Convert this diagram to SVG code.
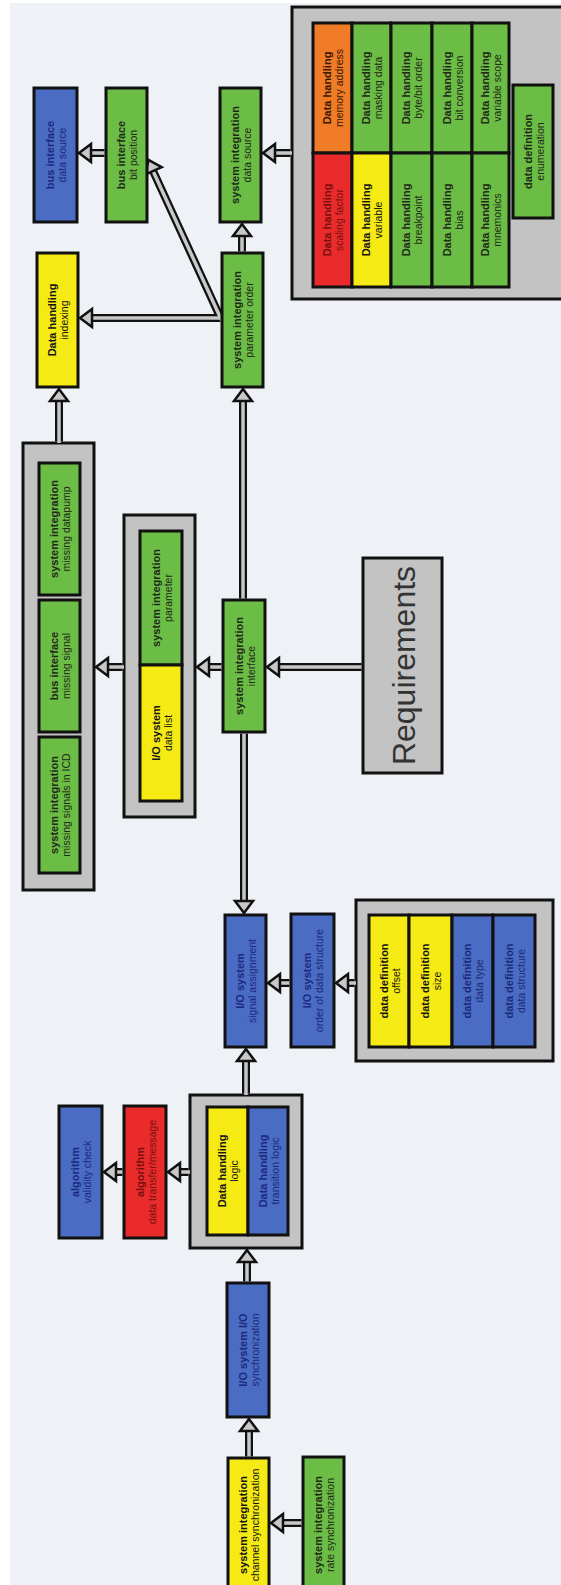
<svg xmlns="http://www.w3.org/2000/svg" xmlns:xlink="http://www.w3.org/1999/xlink" width="561" height="1585" viewBox="0 0 561 1585">
<style>
.box{stroke:#111;stroke-width:3}
.grp{fill:#c3c3c3;stroke:#111;stroke-width:3}
.green{fill:#6cbd45}
.blue{fill:#4a6cc2}
.yellow{fill:#f6ea14}
.red{fill:#ea2b2b}
.orange{fill:#f07c28}
text{font-family:"Liberation Sans",Arial,sans-serif;text-anchor:middle}
.b{font-weight:bold;font-size:11px}
.r{font-size:10.5px}
.kg{fill:#1f2a18}
.kb{fill:#1b2a80}
.ky{fill:#151515}
.kr{fill:#7a1010}
.ko{fill:#3a1800}
.req{font-size:32px;fill:#333}
.sb{stroke:#111;stroke-width:8;fill:none}
.sg{stroke:#c8c8c8;stroke-width:3.5;fill:none}
.ah{fill:#c8c8c8;stroke:#111;stroke-width:2.5;stroke-linejoin:miter}
</style>
<defs>
<path id="ah" class="ah" d="M0,0 L-12,-9 L-12,9 Z"/>
</defs>
<rect x="0" y="0" width="561" height="1585" fill="#ffffff"/>
<rect x="10" y="3" width="551" height="1582" fill="#eef2f6"/>

<g id="grp-datahandling">
<rect class="grp" x="292" y="7" width="290" height="292"/>
</g>
<g id="grp-missing"><rect class="grp" x="23" y="443" width="71" height="447"/></g>
<g id="grp-parameter"><rect class="grp" x="124" y="515" width="71" height="302"/></g>
<g id="grp-datadef"><rect class="grp" x="356" y="900" width="197" height="161"/></g>
<g id="grp-logic"><rect class="grp" x="190" y="1095" width="112" height="153"/></g>

<g id="connectors">
<path class="sb" d="M104.5 153H90M290.5 153H274M242 251.5V235M220.5 318L152.6 170M220.5 318H91M59 441.5V400M243 598.5V400M221.5 667H208M122.5 667H107M361.5 667H278M244 733.5V902M354.5 983H347M289.5 983H279M246 1093.5V1060M188.5 1172H179M122.5 1172H115M247 1281.5V1261M249 1456.5V1430M301.5 1523H282"/>
<path class="sg" d="M106 153H90M292 153H274M242 253V235M221.5 320L152.6 170M222 318H91M59 443V400M243 600V400M223 667H208M124 667H107M363 667H278M244 732V902M356 983H347M291 983H279M246 1095V1060M190 1172H179M124 1172H115M247 1283V1261M249 1458V1430M303 1523H282"/>
<use xlink:href="#ah" transform="translate(79,153) rotate(180)"/>
<use xlink:href="#ah" transform="translate(263,153) rotate(180)"/>
<use xlink:href="#ah" transform="translate(242,224) rotate(-90)"/>
<use xlink:href="#ah" transform="translate(148.5,160) rotate(-114.5)"/>
<use xlink:href="#ah" transform="translate(80,318) rotate(180)"/>
<use xlink:href="#ah" transform="translate(59,389) rotate(-90)"/>
<use xlink:href="#ah" transform="translate(243,389) rotate(-90)"/>
<use xlink:href="#ah" transform="translate(197,667) rotate(180)"/>
<use xlink:href="#ah" transform="translate(96,667) rotate(180)"/>
<use xlink:href="#ah" transform="translate(267,667) rotate(180)"/>
<use xlink:href="#ah" transform="translate(244,913) rotate(90)"/>
<use xlink:href="#ah" transform="translate(336,983) rotate(180)"/>
<use xlink:href="#ah" transform="translate(268,983) rotate(180)"/>
<use xlink:href="#ah" transform="translate(246,1049) rotate(-90)"/>
<use xlink:href="#ah" transform="translate(168,1172) rotate(180)"/>
<use xlink:href="#ah" transform="translate(104,1172) rotate(180)"/>
<use xlink:href="#ah" transform="translate(247,1250) rotate(-90)"/>
<use xlink:href="#ah" transform="translate(249,1419) rotate(-90)"/>
<use xlink:href="#ah" transform="translate(271,1523) rotate(180)"/>
</g>

<g id="n-bus-data-source"><rect class="box blue" x="34" y="88" width="43" height="134"/><text class="kb" transform="translate(55.5,155) rotate(-90)"><tspan class="b" x="0" y="-1.2">bus interface</tspan><tspan class="r" x="0" y="10.7">data source</tspan></text></g>
<g id="n-bus-bit-position"><rect class="box green" x="106" y="88" width="41" height="134"/><text class="kg" transform="translate(126.5,155) rotate(-90)"><tspan class="b" x="0" y="-1.2">bus interface</tspan><tspan class="r" x="0" y="10.7">bit position</tspan></text></g>
<g id="n-si-data-source"><rect class="box green" x="220" y="88" width="41" height="134"/><text class="kg" transform="translate(240.5,155) rotate(-90)"><tspan class="b" x="0" y="-1.2">system integration</tspan><tspan class="r" x="0" y="10.7">data source</tspan></text></g>
<g id="n-dh-indexing"><rect class="box yellow" x="37" y="253" width="41" height="134"/><text class="ky" transform="translate(57.5,320) rotate(-90)"><tspan class="b" x="0" y="-1.2">Data handling</tspan><tspan class="r" x="0" y="10.7">indexing</tspan></text></g>
<g id="n-si-parameter-order"><rect class="box green" x="222" y="253" width="41" height="134"/><text class="kg" transform="translate(242.5,320) rotate(-90)"><tspan class="b" x="0" y="-1.2">system integration</tspan><tspan class="r" x="0" y="10.7">parameter order</tspan></text></g>

<g id="n-si-missing-datapump"><rect class="box green" x="39" y="463" width="41" height="132"/><text class="kg" transform="translate(59.5,529) rotate(-90)"><tspan class="b" x="0" y="-1.2">system integration</tspan><tspan class="r" x="0" y="10.7">missing datapump</tspan></text></g>
<g id="n-bus-missing-signal"><rect class="box green" x="39" y="600" width="41" height="132"/><text class="kg" transform="translate(59.5,666) rotate(-90)"><tspan class="b" x="0" y="-1.2">bus interface</tspan><tspan class="r" x="0" y="10.7">missing signal</tspan></text></g>
<g id="n-si-missing-icd"><rect class="box green" x="39" y="737" width="41" height="136"/><text class="kg" transform="translate(59.5,805) rotate(-90)"><tspan class="b" x="0" y="-1.2">system integration</tspan><tspan class="r" x="0" y="10.7">missing signals in ICD</tspan></text></g>

<g id="n-si-parameter"><rect class="box green" x="140" y="531" width="42" height="134"/><text class="kg" transform="translate(161,598) rotate(-90)"><tspan class="b" x="0" y="-1.2">system integration</tspan><tspan class="r" x="0" y="10.7">parameter</tspan></text></g>
<g id="n-io-data-list"><rect class="box yellow" x="140" y="665" width="42" height="136"/><text class="ky" transform="translate(161,733) rotate(-90)"><tspan class="b" x="0" y="-1.2">I/O system</tspan><tspan class="r" x="0" y="10.7">data list</tspan></text></g>

<g id="n-si-interface"><rect class="box green" x="223" y="600" width="42" height="132"/><text class="kg" transform="translate(244,666) rotate(-90)"><tspan class="b" x="0" y="-1.2">system integration</tspan><tspan class="r" x="0" y="10.7">interface</tspan></text></g>

<g id="n-requirements"><rect class="grp" x="363" y="558" width="79" height="215"/><text class="req" transform="translate(402.5,665.5) rotate(-90)" y="12">Requirements</text></g>

<g id="n-io-signal-assignment"><rect class="box blue" x="225" y="915" width="41" height="132"/><text class="kb" transform="translate(245.5,981) rotate(-90)"><tspan class="b" x="0" y="-1.2">I/O system</tspan><tspan class="r" x="0" y="10.7">signal assignment</tspan></text></g>
<g id="n-io-order-ds"><rect class="box blue" x="291" y="914" width="43" height="133"/><text class="kb" transform="translate(312.5,980.5) rotate(-90)"><tspan class="b" x="0" y="-1.2">I/O system</tspan><tspan class="r" x="0" y="10.7">order of data structure</tspan></text></g>

<g id="n-dd-offset"><rect class="box yellow" x="369" y="915" width="40" height="132"/><text class="ky" transform="translate(389,981) rotate(-90)"><tspan class="b" x="0" y="-1.2">data definition</tspan><tspan class="r" x="0" y="10.7">offset</tspan></text></g>
<g id="n-dd-size"><rect class="box yellow" x="409" y="915" width="43" height="132"/><text class="ky" transform="translate(430.5,981) rotate(-90)"><tspan class="b" x="0" y="-1.2">data definition</tspan><tspan class="r" x="0" y="10.7">size</tspan></text></g>
<g id="n-dd-data-type"><rect class="box blue" x="452" y="915" width="41" height="132"/><text class="kb" transform="translate(472.5,981) rotate(-90)"><tspan class="b" x="0" y="-1.2">data definition</tspan><tspan class="r" x="0" y="10.7">data type</tspan></text></g>
<g id="n-dd-data-structure"><rect class="box blue" x="493" y="915" width="42" height="132"/><text class="kb" transform="translate(514,981) rotate(-90)"><tspan class="b" x="0" y="-1.2">data definition</tspan><tspan class="r" x="0" y="10.7">data structure</tspan></text></g>

<g id="n-dh-logic"><rect class="box yellow" x="207" y="1107" width="41" height="128"/><text class="ky" transform="translate(227.5,1171) rotate(-90)"><tspan class="b" x="0" y="-1.2">Data handling</tspan><tspan class="r" x="0" y="10.7">logic</tspan></text></g>
<g id="n-dh-transition-logic"><rect class="box blue" x="248" y="1107" width="40" height="128"/><text class="kb" transform="translate(268,1171) rotate(-90)"><tspan class="b" x="0" y="-1.2">Data handling</tspan><tspan class="r" x="0" y="10.7">transition logic</tspan></text></g>

<g id="n-alg-transfer"><rect class="box red" x="124" y="1106" width="42" height="132"/><text class="kr" transform="translate(145,1172) rotate(-90)"><tspan class="b" x="0" y="-1.2">algorithm</tspan><tspan class="r" x="0" y="10.7">data transfer/message</tspan></text></g>
<g id="n-alg-validity"><rect class="box blue" x="59" y="1106" width="43" height="132"/><text class="kb" transform="translate(80.5,1172) rotate(-90)"><tspan class="b" x="0" y="-1.2">algorithm</tspan><tspan class="r" x="0" y="10.7">validity check</tspan></text></g>

<g id="n-io-sync"><rect class="box blue" x="227" y="1283" width="42" height="134"/><text class="kb" transform="translate(248,1350) rotate(-90)"><tspan class="b" x="0" y="-1.2">I/O system I/O</tspan><tspan class="r" x="0" y="10.7">synchronization</tspan></text></g>
<g id="n-si-channel-sync"><rect class="box yellow" x="228" y="1458" width="41" height="134"/><text class="ky" transform="translate(248.5,1525) rotate(-90)"><tspan class="b" x="0" y="-1.2">system integration</tspan><tspan class="r" x="0" y="10.7">channel synchronization</tspan></text></g>
<g id="n-si-rate-sync"><rect class="box green" x="303" y="1457" width="41" height="136"/><text class="kg" transform="translate(323.5,1525) rotate(-90)"><tspan class="b" x="0" y="-1.2">system integration</tspan><tspan class="r" x="0" y="10.7">rate synchronization</tspan></text></g>

<g id="n-dh-memory-address"><rect class="box orange" x="313" y="23" width="39" height="130"/><text class="ko" transform="translate(332.5,88) rotate(-90)"><tspan class="b" x="0" y="-1.2">Data handling</tspan><tspan class="r" x="0" y="10.7">memory address</tspan></text></g>
<g id="n-dh-scaling-factor"><rect class="box red" x="313" y="153" width="39" height="134"/><text class="kr" transform="translate(332.5,220) rotate(-90)"><tspan class="b" x="0" y="-1.2">Data handling</tspan><tspan class="r" x="0" y="10.7">scaling factor</tspan></text></g>
<g id="n-dh-masking-data"><rect class="box green" x="352" y="23" width="39" height="130"/><text class="kg" transform="translate(371.5,88) rotate(-90)"><tspan class="b" x="0" y="-1.2">Data handling</tspan><tspan class="r" x="0" y="10.7">masking data</tspan></text></g>
<g id="n-dh-variable"><rect class="box yellow" x="352" y="153" width="39" height="134"/><text class="ky" transform="translate(371.5,220) rotate(-90)"><tspan class="b" x="0" y="-1.2">Data handling</tspan><tspan class="r" x="0" y="10.7">variable</tspan></text></g>
<g id="n-dh-byte-bit-order"><rect class="box green" x="391" y="23" width="41" height="130"/><text class="kg" transform="translate(411.5,88) rotate(-90)"><tspan class="b" x="0" y="-1.2">Data handling</tspan><tspan class="r" x="0" y="10.7">byte/bit order</tspan></text></g>
<g id="n-dh-breakpoint"><rect class="box green" x="391" y="153" width="41" height="134"/><text class="kg" transform="translate(411.5,220) rotate(-90)"><tspan class="b" x="0" y="-1.2">Data handling</tspan><tspan class="r" x="0" y="10.7">breakpoint</tspan></text></g>
<g id="n-dh-bit-conversion"><rect class="box green" x="432" y="23" width="40" height="130"/><text class="kg" transform="translate(452,88) rotate(-90)"><tspan class="b" x="0" y="-1.2">Data handling</tspan><tspan class="r" x="0" y="10.7">bit conversion</tspan></text></g>
<g id="n-dh-bias"><rect class="box green" x="432" y="153" width="40" height="134"/><text class="kg" transform="translate(452,220) rotate(-90)"><tspan class="b" x="0" y="-1.2">Data handling</tspan><tspan class="r" x="0" y="10.7">bias</tspan></text></g>
<g id="n-dh-variable-scope"><rect class="box green" x="472" y="23" width="37" height="130"/><text class="kg" transform="translate(490.5,88) rotate(-90)"><tspan class="b" x="0" y="-1.2">Data handling</tspan><tspan class="r" x="0" y="10.7">variable scope</tspan></text></g>
<g id="n-dh-mnemonics"><rect class="box green" x="472" y="153" width="37" height="134"/><text class="kg" transform="translate(490.5,220) rotate(-90)"><tspan class="b" x="0" y="-1.2">Data handling</tspan><tspan class="r" x="0" y="10.7">mnemonics</tspan></text></g>
<g id="n-dd-enumeration"><rect class="box green" x="513" y="85" width="40" height="133"/><text class="kg" transform="translate(533,151.5) rotate(-90)"><tspan class="b" x="0" y="-1.2">data definition</tspan><tspan class="r" x="0" y="10.7">enumeration</tspan></text></g>
</svg>
